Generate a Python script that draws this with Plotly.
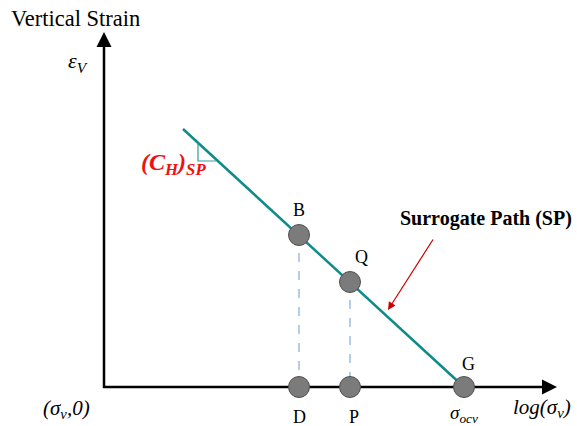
import plotly.graph_objects as go

# Schematic coordinates (canvas units, y grows downward)
axis_origin = (104, 387)
y_axis_top = 32
x_axis_end = 557

path_x = [183, 464]
path_y = [129, 387]

point_names = ["B", "Q", "D", "P", "G"]
point_x = [299, 350, 299, 350, 464]
point_y = [235, 282, 387, 387, 387]

drop_x = [[299, 299], [350, 350]]
drop_y = [[235, 387], [282, 387]]

tri_x = [198, 198, 216]
tri_y = [143, 161, 161]

SERIF = "Liberation Serif, Times New Roman, DejaVu Serif, serif"

fig = go.Figure()

# axes lines
fig.add_trace(go.Scatter(x=[axis_origin[0], axis_origin[0], x_axis_end - 8],
                         y=[y_axis_top + 8, axis_origin[1], axis_origin[1]],
                         mode="lines", line=dict(color="black", width=2.5),
                         hoverinfo="skip", showlegend=False))

# dashed drop lines
for xs, ys in zip(drop_x, drop_y):
    fig.add_trace(go.Scatter(x=xs, y=ys, mode="lines",
                             line=dict(color="#8db3dc", width=1.3, dash="dash"),
                             hoverinfo="skip", showlegend=False))

# surrogate path
fig.add_trace(go.Scatter(x=path_x, y=path_y, mode="lines",
                         line=dict(color="#0f8a8a", width=2.5),
                         hoverinfo="skip", showlegend=False))

# slope triangle
fig.add_trace(go.Scatter(x=tri_x, y=tri_y, mode="lines",
                         line=dict(color="#2a9d9d", width=1.2),
                         hoverinfo="skip", showlegend=False))

# points
fig.add_trace(go.Scatter(x=point_x, y=point_y, mode="markers",
                         marker=dict(size=21, color="#7b7b7b",
                                     line=dict(color="#505050", width=1)),
                         hoverinfo="skip", showlegend=False))

annotations = []
# axis arrowheads
annotations.append(dict(x=axis_origin[0], y=y_axis_top, ax=axis_origin[0], ay=y_axis_top + 14,
                        xref="x", yref="y", axref="x", ayref="y", showarrow=True,
                        arrowhead=2, arrowsize=1.2, arrowwidth=2.5, arrowcolor="black", text=""))
annotations.append(dict(x=x_axis_end, y=axis_origin[1], ax=x_axis_end - 14, ay=axis_origin[1],
                        xref="x", yref="y", axref="x", ayref="y", showarrow=True,
                        arrowhead=2, arrowsize=1.2, arrowwidth=2.5, arrowcolor="black", text=""))
# red arrow
annotations.append(dict(x=388, y=310, ax=434, ay=238,
                        xref="x", yref="y", axref="x", ayref="y", showarrow=True,
                        arrowhead=2, arrowsize=1.3, arrowwidth=1.2, arrowcolor="#cc0000", text=""))

def txt(x, y, t, size=16, color="black", xanchor="center"):
    annotations.append(dict(x=x, y=y, text=t, showarrow=False, xref="x", yref="y",
                            xanchor=xanchor, yanchor="middle",
                            font=dict(family=SERIF, size=size, color=color)))

txt(9, 18, "Vertical Strain", size=22.5, xanchor="left")
txt(78, 62, "<i>ε<sub>V</sub></i>", size=22)
txt(299, 210, "B", size=18)
txt(361, 257, "Q", size=18)
txt(468, 364, "G", size=18)
txt(299, 417, "D", size=18)
txt(354, 417, "P", size=18)
txt(464, 414, "<i>σ<sub>ocv</sub></i>", size=19)
txt(542, 408, "<i>log(σ<sub>v</sub>)</i>", size=21)
txt(66, 409, "<i>(σ<sub>v</sub>,0)</i>", size=21)
txt(173, 164, "<b><i>(C<sub>H</sub>)<sub>SP</sub></i></b>", size=24, color="#ee1111")
txt(486, 218, "<b>Surrogate Path (SP)</b>", size=20)

fig.update_layout(
    width=577, height=426,
    margin=dict(l=0, r=0, t=0, b=0),
    paper_bgcolor="white", plot_bgcolor="white",
    font=dict(family=SERIF),
    xaxis=dict(range=[0, 577], visible=False, fixedrange=True),
    yaxis=dict(range=[426, 0], visible=False, fixedrange=True),
    annotations=annotations,
    showlegend=False,
)

fig.write_html("out.html")
